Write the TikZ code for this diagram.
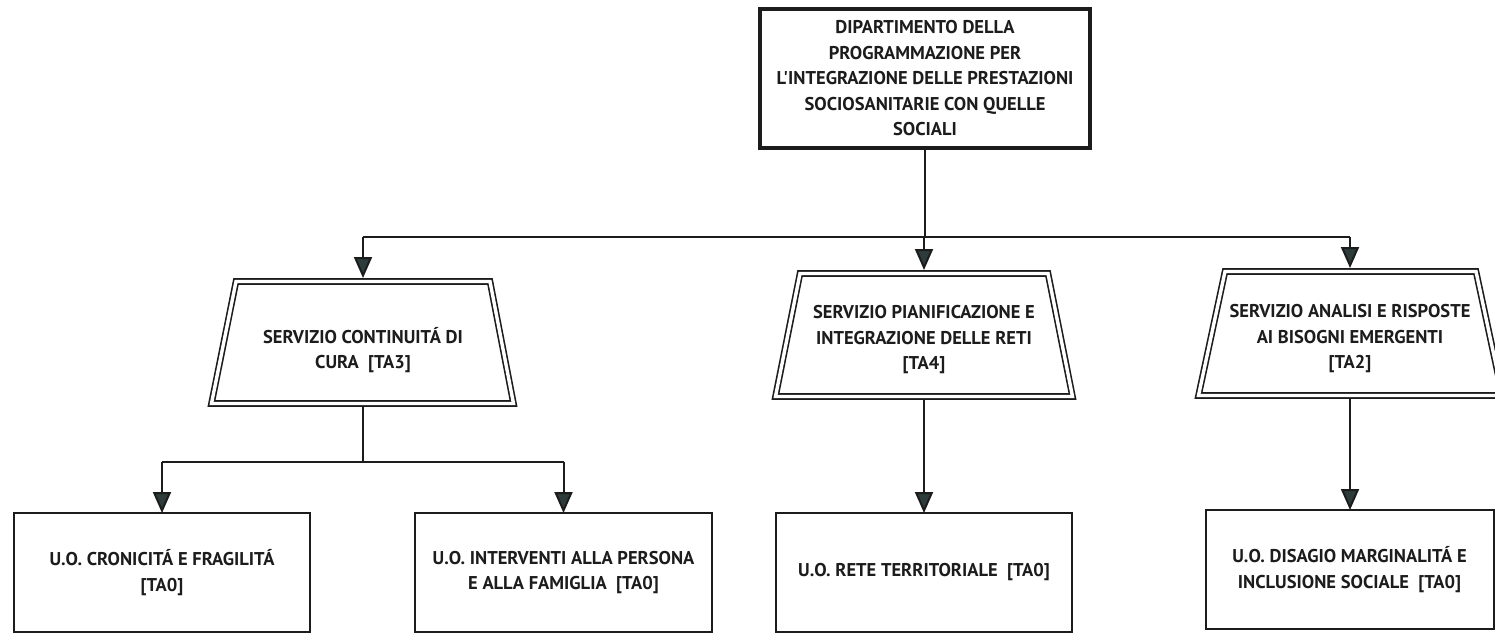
\documentclass[tikz,border=0pt]{standalone}
\usepackage{fontspec}
\newfontfamily\lab{PT Sans}[BoldFont={PT Sans Bold}]
\usetikzlibrary{arrows.meta}
\definecolor{ink}{HTML}{1C1C1C}
\definecolor{tipfill}{HTML}{2D3B3B}
\tikzset{
  lbl/.style={font=\lab\bfseries\fontsize{18.5}{25.5}\selectfont, text=ink, align=center},
  topbox/.style={lbl, draw=ink, line width=4.5pt, minimum width=330pt, minimum height=139pt, inner sep=0pt, outer sep=0pt},
  servtext/.style={lbl, inner sep=0pt},
  trapline/.style={draw=ink, double=white, double distance=3.4pt, line width=1.6pt},
  uobox/.style={lbl, draw=ink, line width=2pt, minimum height=119pt, inner sep=0pt, outer sep=0pt},
  conn/.style={draw=ink, line width=2pt},
  arr/.style={conn, -{Triangle[length=21pt,width=18pt,fill=tipfill]}},
}
\begin{document}
\begin{tikzpicture}[x=1pt,y=1pt]
\useasboundingbox (0,0) rectangle (1495,-634);
\fill[white] (0,0) rectangle (1495,-634);
\clip (0,0) rectangle (1495,-634);

% top department box
\node[topbox] (dip) at (925,-78.5) {DIPARTIMENTO DELLA\\PROGRAMMAZIONE PER\\L'INTEGRAZIONE DELLE PRESTAZIONI\\SOCIOSANITARIE CON QUELLE\\SOCIALI};

% service trapezoids
\draw[trapline] (236,-281.5) -- (490,-281.5) -- (513.5,-403.5) -- (211.5,-403.5) -- cycle;
\node[servtext] (s1) at (363,-350) {SERVIZIO CONTINUITÁ DI\\CURA~~{[TA3]}};
\coordinate (s1t) at (363,-278);
\coordinate (s1b) at (363,-407);

\draw[trapline] (800,-273.5) -- (1048,-273.5) -- (1072.5,-396.5) -- (775.5,-396.5) -- cycle;
\node[servtext] (s2) at (924,-340) {SERVIZIO PIANIFICAZIONE E\\INTEGRAZIONE DELLE RETI\\{[TA4]}};
\coordinate (s2t) at (924,-270);
\coordinate (s2b) at (924,-400);

\draw[trapline] (1225,-271.5) -- (1476,-271.5) -- (1502.5,-395.5) -- (1198.5,-395.5) -- cycle;
\node[servtext] (s3) at (1350,-339) {SERVIZIO ANALISI E RISPOSTE\\AI BISOGNI EMERGENTI\\{[TA2]}};
\coordinate (s3t) at (1350,-268);
\coordinate (s3b) at (1350,-399);

% unit boxes
\node[uobox, minimum width=296pt] (u1) at (162,-572.5) {U.O. CRONICITÁ E FRAGILITÁ\\{[TA0]}};
\node[uobox, minimum width=297pt] (u2) at (563.5,-572.5) {U.O. INTERVENTI ALLA PERSONA\\E ALLA FAMIGLIA~~{[TA0]}};
\node[uobox, minimum width=296pt] (u3) at (924,-572.5) {U.O. RETE TERRITORIALE~~{[TA0]}};
\node[uobox, minimum width=288pt] (u4) at (1349.5,-569.5) {U.O. DISAGIO MARGINALITÁ E\\INCLUSIONE SOCIALE~~{[TA0]}};

% first level connectors
\coordinate (busC) at (925,-237);
\coordinate (busL) at (363,-237);
\coordinate (busR) at (1350,-237);
\draw[conn] (dip.south) -- (busC);
\draw[conn] (busL) -- (busR);
\draw[arr] (busL) -- (s1t);
\draw[arr] (busC -| s2t) -- (s2t);
\draw[arr] (busR) -- (s3t);

% second level connectors
\coordinate (bus2C) at (363,-462);
\coordinate (bus2L) at (162,-462);
\coordinate (bus2R) at (563.5,-462);
\draw[conn] (s1b) -- (bus2C);
\draw[conn] (bus2L) -- (bus2R);
\draw[arr] (bus2L) -- (u1.north);
\draw[arr] (bus2R) -- (u2.north);

\draw[arr] (s2b) -- (u3.north);
\draw[arr] (s3b) -- (s3b |- u4.north);
\end{tikzpicture}
\end{document}
